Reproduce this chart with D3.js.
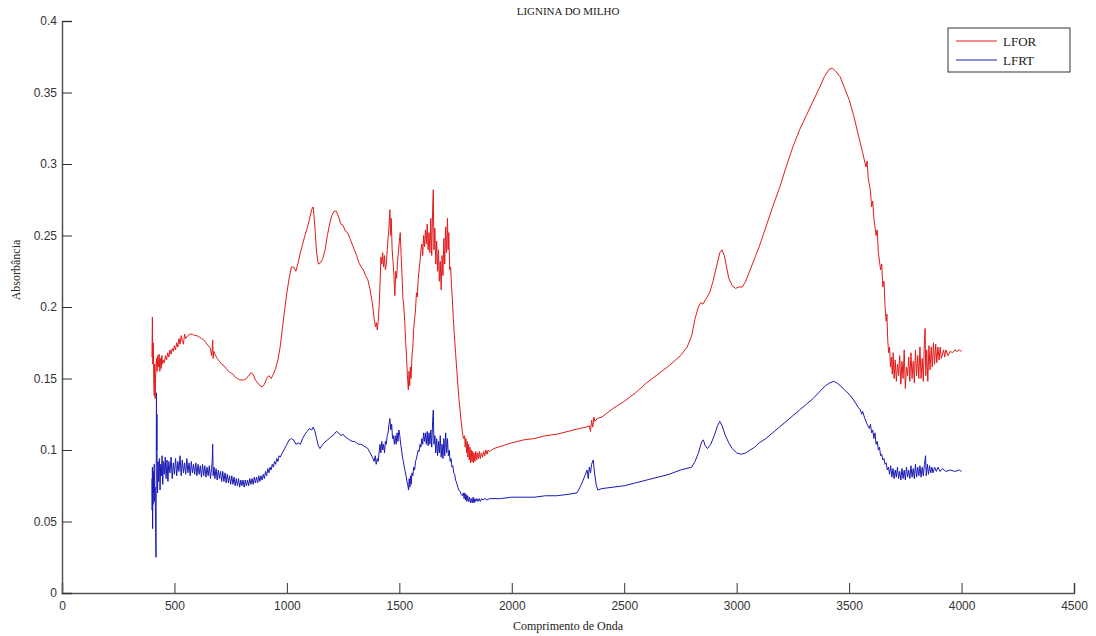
<!DOCTYPE html>
<html>
<head>
<meta charset="utf-8">
<script src="https://cdn.jsdelivr.net/npm/d3@7"></script>
<style>
  body { margin: 0; background: #fff; }
  .tick text { font-family: "Liberation Sans", Arial, sans-serif; font-size: 12px; fill: #333; }
</style>
</head>
<body>
<div id="chart"></div>
<script>
// Data: [wavenumber, absorbance]
const lforData = [
  [400,0.165],[402,0.193],[404,0.160],[406,0.175],[408,0.150],[410,0.138],[412,0.160],[414,0.136],[416,0.150],[418,0.158],
  [420,0.164],[423,0.155],[426,0.166],[429,0.158],[432,0.167],[435,0.155],[438,0.164],[441,0.157],[444,0.166],[447,0.160],
  [450,0.163],[455,0.161],[460,0.166],[465,0.163],[470,0.168],[475,0.165],[480,0.170],[485,0.167],[490,0.171],[495,0.169],
  [500,0.173],[505,0.170],[510,0.175],[515,0.172],[520,0.178],[525,0.174],[530,0.180],[535,0.176],[540,0.174],[545,0.181],
  [550,0.178],[560,0.180],[570,0.181],[580,0.181],[590,0.180],[600,0.180],[610,0.179],[620,0.178],[630,0.177],[640,0.175],
  [650,0.173],[660,0.171],[665,0.166],[668,0.170],[670,0.177],[672,0.164],[675,0.169],[680,0.167],[690,0.164],[700,0.162],
  [710,0.160],[720,0.159],[730,0.157],[740,0.155],[750,0.154],[760,0.153],[770,0.151],[780,0.150],[790,0.149],[800,0.149],
  [810,0.149],[820,0.150],[830,0.152],[840,0.154],[850,0.153],[860,0.149],[870,0.147],[880,0.145],[890,0.144],[900,0.146],
  [910,0.150],[920,0.152],[930,0.150],[940,0.153],[950,0.157],[960,0.163],[970,0.172],[980,0.185],[990,0.198],[1000,0.210],
  [1010,0.220],[1020,0.228],[1030,0.228],[1040,0.225],[1050,0.231],[1060,0.238],[1070,0.244],[1080,0.250],[1090,0.255],[1100,0.261],
  [1110,0.268],[1117,0.270],[1125,0.255],[1132,0.238],[1140,0.230],[1150,0.231],[1160,0.234],[1170,0.240],[1180,0.250],[1190,0.258],
  [1200,0.264],[1210,0.267],[1220,0.267],[1230,0.263],[1240,0.258],[1250,0.257],[1260,0.253],[1270,0.252],[1280,0.248],[1290,0.244],
  [1300,0.240],[1310,0.236],[1320,0.231],[1330,0.228],[1340,0.226],[1350,0.222],[1360,0.219],[1370,0.212],[1380,0.203],[1388,0.192],
  [1394,0.186],[1398,0.189],[1402,0.184],[1406,0.190],[1410,0.200],[1414,0.215],[1418,0.235],[1422,0.230],[1426,0.238],[1430,0.228],
  [1434,0.236],[1438,0.226],[1442,0.230],[1446,0.240],[1450,0.248],[1454,0.256],[1458,0.268],[1461,0.250],[1464,0.262],[1468,0.240],
  [1472,0.232],[1476,0.222],[1480,0.208],[1484,0.225],[1488,0.220],[1492,0.232],[1496,0.238],[1500,0.246],[1504,0.252],[1508,0.236],
  [1512,0.222],[1516,0.206],[1520,0.200],[1524,0.190],[1528,0.176],[1532,0.165],[1536,0.152],[1540,0.142],[1543,0.155],[1546,0.145],
  [1549,0.158],[1552,0.150],[1556,0.165],[1560,0.172],[1564,0.185],[1568,0.192],[1572,0.198],[1576,0.210],[1580,0.207],[1584,0.220],
  [1588,0.226],[1592,0.232],[1596,0.240],[1600,0.244],[1604,0.236],[1608,0.250],[1612,0.242],[1616,0.254],[1620,0.244],[1624,0.258],
  [1628,0.240],[1632,0.252],[1636,0.238],[1640,0.262],[1644,0.236],[1648,0.268],[1651,0.282],[1654,0.240],[1658,0.255],[1662,0.230],
  [1666,0.246],[1670,0.225],[1674,0.240],[1678,0.218],[1682,0.232],[1686,0.212],[1690,0.236],[1694,0.222],[1698,0.248],[1702,0.230],
  [1706,0.256],[1710,0.238],[1714,0.262],[1717,0.240],[1720,0.252],[1724,0.226],[1728,0.228],[1732,0.215],[1736,0.205],[1740,0.192],
  [1745,0.180],[1750,0.168],[1755,0.157],[1760,0.146],[1765,0.136],[1770,0.128],[1775,0.120],[1780,0.113],[1785,0.108],[1790,0.110],
  [1793,0.102],[1796,0.108],[1799,0.098],[1802,0.106],[1805,0.095],[1808,0.104],[1811,0.093],[1814,0.102],[1817,0.091],[1820,0.100],
  [1823,0.092],[1826,0.099],[1829,0.091],[1832,0.098],[1836,0.092],[1840,0.099],[1844,0.093],[1848,0.098],[1852,0.094],[1856,0.099],
  [1860,0.094],[1865,0.098],[1870,0.095],[1875,0.099],[1880,0.096],[1885,0.100],[1890,0.097],[1895,0.100],[1900,0.099],[1910,0.100],
  [1920,0.101],[1940,0.102],[1960,0.103],[1980,0.104],[2000,0.105],[2050,0.107],[2100,0.108],[2150,0.110],[2200,0.111],[2250,0.113],
  [2300,0.115],[2330,0.116],[2345,0.117],[2350,0.113],[2355,0.121],[2360,0.116],[2365,0.123],[2370,0.120],[2380,0.122],[2400,0.123],
  [2450,0.129],[2500,0.134],[2550,0.140],[2600,0.147],[2650,0.153],[2700,0.159],[2750,0.166],[2780,0.172],[2800,0.180],[2815,0.192],
  [2830,0.200],[2840,0.203],[2850,0.202],[2865,0.206],[2880,0.210],[2895,0.218],[2910,0.228],[2925,0.238],[2935,0.240],[2945,0.236],
  [2955,0.228],[2965,0.220],[2980,0.215],[2995,0.213],[3010,0.214],[3025,0.214],[3040,0.218],[3060,0.226],[3080,0.234],[3100,0.242],
  [3130,0.256],[3160,0.270],[3190,0.283],[3220,0.298],[3250,0.312],[3280,0.324],[3310,0.334],[3340,0.344],[3370,0.354],[3390,0.361],
  [3410,0.366],[3425,0.367],[3440,0.365],[3460,0.361],[3480,0.353],[3500,0.345],[3520,0.334],[3540,0.321],[3560,0.308],[3575,0.298],
  [3580,0.302],[3585,0.290],[3595,0.281],[3600,0.270],[3605,0.274],[3610,0.262],[3620,0.250],[3625,0.254],[3630,0.238],[3640,0.226],
  [3645,0.230],[3650,0.214],[3655,0.218],[3660,0.200],[3665,0.190],[3668,0.195],[3672,0.176],[3676,0.168],[3680,0.172],[3684,0.158],
  [3688,0.165],[3692,0.153],[3696,0.168],[3700,0.150],[3705,0.163],[3710,0.148],[3715,0.160],[3720,0.152],[3725,0.166],[3730,0.146],
  [3735,0.162],[3740,0.150],[3745,0.170],[3750,0.143],[3755,0.158],[3760,0.152],[3765,0.165],[3770,0.148],[3775,0.168],[3780,0.150],
  [3785,0.162],[3790,0.147],[3795,0.170],[3800,0.152],[3805,0.166],[3810,0.150],[3815,0.172],[3820,0.150],[3825,0.164],[3830,0.148],
  [3835,0.178],[3838,0.185],[3841,0.152],[3845,0.170],[3850,0.148],[3855,0.173],[3860,0.156],[3865,0.172],[3870,0.158],[3875,0.175],
  [3880,0.160],[3885,0.174],[3890,0.161],[3895,0.172],[3900,0.163],[3905,0.172],[3910,0.164],[3920,0.170],[3925,0.165],[3930,0.170],
  [3940,0.166],[3950,0.169],[3960,0.168],[3970,0.170],[3980,0.169],[3990,0.170],[4000,0.169]
];

const lfrtData = [
  [400,0.080],[401,0.058],[402,0.088],[403,0.045],[404,0.076],[405,0.062],[406,0.085],[408,0.070],[410,0.090],[412,0.064],
  [414,0.074],[416,0.050],[418,0.025],[419,0.080],[420,0.140],[421,0.100],[422,0.125],[423,0.085],[425,0.070],[427,0.092],
  [430,0.078],[433,0.094],[436,0.072],[439,0.090],[442,0.082],[445,0.096],[448,0.076],[451,0.092],[455,0.083],[459,0.095],
  [463,0.080],[467,0.093],[471,0.078],[475,0.092],[480,0.084],[485,0.095],[490,0.080],[495,0.091],[500,0.083],[505,0.094],
  [510,0.082],[515,0.092],[520,0.085],[525,0.096],[530,0.082],[535,0.093],[540,0.084],[545,0.091],[550,0.083],[555,0.094],
  [560,0.084],[565,0.091],[570,0.082],[575,0.092],[580,0.084],[585,0.090],[590,0.083],[595,0.091],[600,0.082],[605,0.090],
  [610,0.083],[615,0.089],[620,0.081],[625,0.090],[630,0.082],[635,0.089],[640,0.081],[645,0.088],[650,0.082],[655,0.089],
  [660,0.080],[665,0.087],[668,0.092],[670,0.104],[672,0.082],[676,0.088],[680,0.080],[685,0.087],[690,0.079],[695,0.086],
  [700,0.080],[705,0.085],[710,0.078],[715,0.085],[720,0.078],[725,0.084],[730,0.077],[735,0.083],[740,0.077],[745,0.082],
  [750,0.076],[755,0.082],[760,0.076],[765,0.081],[770,0.075],[775,0.080],[780,0.075],[785,0.080],[790,0.074],[795,0.079],
  [800,0.075],[805,0.079],[810,0.074],[815,0.079],[820,0.075],[825,0.079],[830,0.075],[835,0.080],[840,0.076],[845,0.080],
  [850,0.076],[855,0.081],[860,0.077],[865,0.081],[870,0.077],[875,0.082],[880,0.078],[885,0.082],[890,0.079],[895,0.083],
  [900,0.080],[905,0.085],[910,0.082],[915,0.087],[920,0.084],[925,0.088],[930,0.086],[935,0.090],[940,0.088],[945,0.092],
  [950,0.090],[955,0.094],[960,0.092],[965,0.096],[970,0.095],[980,0.098],[990,0.101],[1000,0.104],[1010,0.107],[1020,0.108],
  [1030,0.107],[1040,0.104],[1050,0.105],[1060,0.104],[1070,0.108],[1080,0.111],[1090,0.113],[1100,0.115],[1110,0.114],[1117,0.116],
  [1125,0.113],[1132,0.108],[1140,0.103],[1147,0.101],[1155,0.103],[1165,0.105],[1180,0.107],[1195,0.109],[1210,0.111],[1220,0.113],
  [1230,0.112],[1240,0.110],[1250,0.111],[1260,0.109],[1270,0.108],[1280,0.107],[1290,0.106],[1300,0.106],[1310,0.105],[1320,0.104],
  [1330,0.104],[1340,0.103],[1350,0.102],[1360,0.101],[1370,0.098],[1380,0.095],[1388,0.092],[1393,0.096],[1397,0.090],[1402,0.094],
  [1406,0.092],[1410,0.098],[1414,0.104],[1418,0.098],[1422,0.106],[1426,0.100],[1430,0.104],[1434,0.098],[1438,0.106],[1442,0.104],
  [1446,0.110],[1450,0.112],[1454,0.118],[1458,0.122],[1462,0.114],[1466,0.118],[1470,0.108],[1474,0.110],[1478,0.104],[1482,0.110],
  [1486,0.104],[1490,0.112],[1494,0.106],[1498,0.114],[1502,0.110],[1506,0.104],[1510,0.100],[1514,0.095],[1518,0.092],[1522,0.088],
  [1526,0.085],[1530,0.082],[1534,0.078],[1538,0.075],[1541,0.072],[1544,0.080],[1547,0.074],[1550,0.082],[1553,0.076],[1556,0.084],
  [1560,0.082],[1564,0.088],[1568,0.086],[1572,0.092],[1576,0.094],[1580,0.097],[1584,0.100],[1588,0.099],[1592,0.104],[1596,0.102],
  [1600,0.108],[1604,0.104],[1608,0.112],[1612,0.106],[1616,0.112],[1620,0.104],[1624,0.113],[1628,0.103],[1632,0.112],[1636,0.104],
  [1640,0.114],[1644,0.102],[1648,0.120],[1651,0.128],[1654,0.104],[1658,0.110],[1662,0.098],[1666,0.108],[1670,0.096],[1674,0.106],
  [1678,0.098],[1682,0.110],[1686,0.095],[1690,0.104],[1694,0.094],[1698,0.108],[1702,0.096],[1706,0.112],[1710,0.098],[1714,0.108],
  [1718,0.096],[1722,0.100],[1726,0.092],[1730,0.094],[1734,0.088],[1738,0.089],[1742,0.084],[1746,0.083],[1750,0.079],[1755,0.077],
  [1760,0.074],[1765,0.072],[1770,0.071],[1775,0.069],[1780,0.068],[1785,0.070],[1788,0.066],[1791,0.070],[1794,0.065],[1797,0.069],
  [1800,0.064],[1804,0.068],[1808,0.064],[1812,0.067],[1816,0.063],[1820,0.066],[1824,0.063],[1828,0.067],[1832,0.063],[1836,0.066],
  [1840,0.064],[1845,0.066],[1850,0.064],[1855,0.066],[1860,0.064],[1866,0.066],[1872,0.065],[1880,0.066],[1890,0.065],[1900,0.066],
  [1950,0.066],[2000,0.067],[2050,0.067],[2100,0.067],[2150,0.068],[2200,0.068],[2250,0.069],[2290,0.070],[2310,0.076],[2325,0.082],
  [2335,0.086],[2340,0.080],[2345,0.088],[2350,0.084],[2355,0.090],[2362,0.093],[2368,0.084],[2375,0.076],[2382,0.072],[2400,0.073],
  [2450,0.074],[2500,0.075],[2550,0.077],[2600,0.079],[2650,0.081],[2700,0.083],[2750,0.086],[2800,0.088],[2815,0.092],[2830,0.098],
  [2845,0.106],[2852,0.107],[2860,0.103],[2870,0.101],[2885,0.104],[2900,0.110],[2915,0.117],[2925,0.120],[2935,0.117],[2950,0.110],
  [2965,0.105],[2980,0.101],[3000,0.098],[3020,0.097],[3040,0.098],[3060,0.100],[3080,0.102],[3100,0.105],[3130,0.108],[3160,0.112],
  [3190,0.116],[3220,0.120],[3250,0.124],[3280,0.128],[3310,0.132],[3340,0.136],[3370,0.141],[3395,0.145],[3415,0.147],[3430,0.148],
  [3445,0.147],[3460,0.145],[3480,0.142],[3500,0.139],[3520,0.135],[3540,0.130],[3550,0.128],[3556,0.125],[3560,0.127],[3570,0.122],
  [3580,0.118],[3590,0.115],[3595,0.118],[3600,0.112],[3605,0.114],[3610,0.108],[3615,0.112],[3620,0.104],[3625,0.106],[3630,0.100],
  [3635,0.102],[3640,0.096],[3645,0.097],[3650,0.093],[3655,0.094],[3660,0.090],[3665,0.091],[3670,0.086],[3675,0.088],[3680,0.083],
  [3685,0.089],[3690,0.081],[3695,0.087],[3700,0.080],[3705,0.086],[3710,0.081],[3715,0.088],[3720,0.080],[3725,0.085],[3730,0.079],
  [3735,0.087],[3740,0.080],[3745,0.086],[3750,0.079],[3755,0.088],[3760,0.081],[3765,0.086],[3770,0.080],[3775,0.089],[3780,0.081],
  [3785,0.087],[3790,0.080],[3795,0.090],[3800,0.081],[3805,0.088],[3810,0.082],[3815,0.089],[3820,0.081],[3825,0.088],[3830,0.082],
  [3835,0.090],[3840,0.096],[3843,0.082],[3848,0.090],[3853,0.083],[3858,0.089],[3863,0.084],[3868,0.088],[3873,0.084],[3880,0.088],
  [3888,0.085],[3895,0.088],[3905,0.085],[3915,0.087],[3930,0.085],[3950,0.086],[3970,0.085],[3990,0.086],[4000,0.085]
];

const xTicks = [0, 500, 1000, 1500, 2000, 2500, 3000, 3500, 4000, 4500];
const yTicks = [0, 0.05, 0.1, 0.15, 0.2, 0.25, 0.3, 0.35, 0.4];
const seriesNames = ["LFOR", "LFRT"];
const seriesColors = ["#e31a1a", "#1a1ab4"];

// Layout
const width = 1096;
const height = 636;
const margin = { top: 21, right: 22, bottom: 43, left: 62 };
const plotW = width - margin.left - margin.right;
const plotH = height - margin.top - margin.bottom;

const svg = d3.select("#chart")
  .append("svg")
  .attr("width", width)
  .attr("height", height);

const g = svg.append("g")
  .attr("transform", `translate(${margin.left},${margin.top})`);

const x = d3.scaleLinear().domain([0, 4500]).range([0, plotW]);
const y = d3.scaleLinear().domain([0, 0.4]).range([plotH, 0]);

// Axes (MATLAB style, ticks pointing inward)
const xAxis = g.append("g")
  .attr("transform", `translate(0,${plotH})`)
  .call(d3.axisBottom(x).tickValues(xTicks).tickSize(-10).tickPadding(15).tickFormat(d3.format("d")));

const yAxis = g.append("g")
  .call(d3.axisLeft(y).tickValues(yTicks).tickSize(-10).tickPadding(15).tickFormat(d => d === 0 ? "0" : String(+d.toFixed(2))));

[xAxis, yAxis].forEach(a => {
  a.select(".domain").attr("stroke", "#555").attr("stroke-width", 1.5);
  a.selectAll(".tick line").attr("stroke", "#333");
});
yAxis.selectAll(".tick text").attr("x", -5);
xAxis.selectAll(".tick text").attr("y", 8);

// Lines
const line = d3.line().x(d => x(d[0])).y(d => y(d[1]));

[lforData, lfrtData].forEach((data, i) => {
  g.append("path")
    .datum(data)
    .attr("fill", "none")
    .attr("stroke", seriesColors[i])
    .attr("stroke-width", 1)
    .attr("d", line);
});

// Title and axis labels
svg.append("text")
  .attr("x", margin.left + plotW / 2)
  .attr("y", 15)
  .attr("text-anchor", "middle")
  .style("font-family", "'Liberation Serif', 'Times New Roman', serif")
  .style("font-size", "11px")
  .attr("fill", "#222")
  .text("LIGNINA DO MILHO");

svg.append("text")
  .attr("x", margin.left + plotW / 2)
  .attr("y", 630)
  .attr("text-anchor", "middle")
  .style("font-family", "'Liberation Serif', 'Times New Roman', serif")
  .style("font-size", "12px")
  .attr("fill", "#222")
  .text("Comprimento de Onda");

svg.append("text")
  .attr("transform", "translate(20,270) rotate(-90)")
  .attr("text-anchor", "middle")
  .style("font-family", "'Liberation Serif', 'Times New Roman', serif")
  .style("font-size", "12px")
  .attr("fill", "#222")
  .text("Absorbância");

// Legend
const legend = svg.append("g").attr("transform", "translate(948,28)");
legend.append("rect")
  .attr("width", 122).attr("height", 44)
  .attr("fill", "#fff").attr("stroke", "#333").attr("stroke-width", 1);

seriesNames.forEach((name, i) => {
  const ly = 13 + i * 19;
  legend.append("line")
    .attr("x1", 8).attr("x2", 49)
    .attr("y1", ly).attr("y2", ly)
    .attr("stroke", seriesColors[i]).attr("stroke-width", 1);
  legend.append("text")
    .attr("x", 55).attr("y", ly + 5)
    .style("font-family", "'Liberation Serif', 'Times New Roman', serif")
    .style("font-size", "13px")
    .attr("fill", "#222")
    .text(name);
});
</script>
</body>
</html>
